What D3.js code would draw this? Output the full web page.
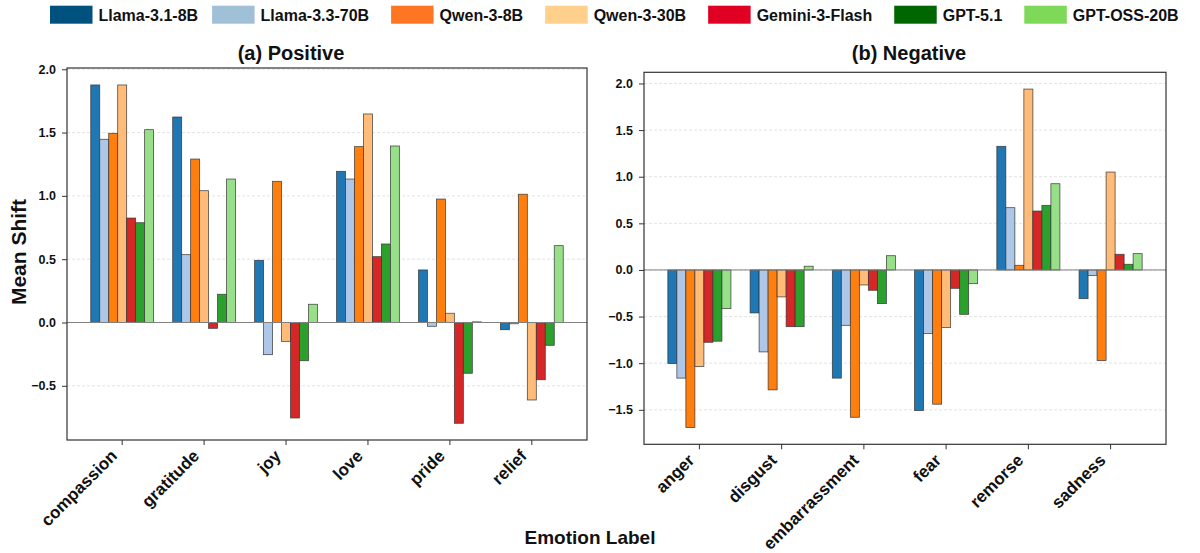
<!DOCTYPE html>
<html>
<head>
<meta charset="utf-8">
<script src="https://cdn.jsdelivr.net/npm/d3@7"></script>
<style>
  html, body { margin: 0; padding: 0; background: #fff; }
  svg { display: block; }
  text { font-family: "Liberation Sans", Arial, Helvetica, sans-serif; font-weight: bold; fill: #111; }
</style>
</head>
<body>
<svg id="chart" width="1200" height="553"></svg>
<script>
// ---------------- DATA ----------------
const models = ["Llama-3.1-8B", "Llama-3.3-70B", "Qwen-3-8B", "Qwen-3-30B", "Gemini-3-Flash", "GPT-5.1", "GPT-OSS-20B"];
const posCategories = ["compassion", "gratitude", "joy", "love", "pride", "relief"];
const negCategories = ["anger", "disgust", "embarrassment", "fear", "remorse", "sadness"];

// Positive emotions (values per category, in posCategories order)
const posLlama31  = [1.876, 1.623, 0.491, 1.194, 0.415, -0.057];
const posLlama33  = [1.447, 0.536, -0.254, 1.133, -0.030, -0.010];
const posQwen8    = [1.494, 1.291, 1.115, 1.389, 0.975, 1.013];
const posQwen30   = [1.876, 1.041, -0.149, 1.647, 0.073, -0.612];
const posGemini   = [0.825, -0.046, -0.754, 0.520, -0.796, -0.452];
const posGpt51    = [0.788, 0.223, -0.302, 0.620, -0.401, -0.180];
const posGptOss   = [1.523, 1.133, 0.144, 1.394, 0.005, 0.607];

// Negative emotions (values per category, in negCategories order)
const negLlama31  = [-1.004, -0.461, -1.160, -1.508, 1.326, -0.308];
const negLlama33  = [-1.160, -0.879, -0.594, -0.683, 0.668, -0.060];
const negQwen8    = [-1.690, -1.286, -1.580, -1.440, 0.050, -0.972];
const negQwen30   = [-1.036, -0.289, -0.161, -0.618, 1.940, 1.050];
const negGemini   = [-0.776, -0.608, -0.218, -0.197, 0.632, 0.168];
const negGpt51    = [-0.764, -0.608, -0.361, -0.476, 0.693, 0.061];
const negGptOss   = [-0.415, 0.040, 0.153, -0.147, 0.925, 0.175];

const posYTicks = [-0.5, 0.0, 0.5, 1.0, 1.5, 2.0];
const negYTicks = [-1.5, -1.0, -0.5, 0.0, 0.5, 1.0, 1.5, 2.0];

const barColors    = ["#1f77b4", "#aec7e8", "#ff7f0e", "#ffbb78", "#d62728", "#2ca02c", "#98df8a"];
const legendColors = ["#00517e", "#a0c0d8", "#ff7622", "#ffd08c", "#e00024", "#006600", "#7ed958"];

const posSeries = [posLlama31, posLlama33, posQwen8, posQwen30, posGemini, posGpt51, posGptOss];
const negSeries = [negLlama31, negLlama33, negQwen8, negQwen30, negGemini, negGpt51, negGptOss];

// ---------------- CHART ----------------
const svg = d3.select("#chart");

function drawPanel(opts) {
  const { left, right, top, bottom, yDomain, yTicks, categories, series, title, titleX } = opts;
  const g = svg.append("g");

  const x0 = d3.scaleBand().domain(categories).range([left, right])
    .paddingInner(0.233).paddingOuter(0.29);
  const x1 = d3.scaleBand().domain(models).range([0, x0.bandwidth()]).padding(0);
  const y = d3.scaleLinear().domain(yDomain).range([bottom, top]);

  // grid lines
  g.append("g").selectAll("line").data(yTicks).join("line")
    .attr("x1", left).attr("x2", right)
    .attr("y1", d => y(d)).attr("y2", d => y(d))
    .attr("stroke", "#dcdcdc").attr("stroke-width", 0.8)
    .attr("stroke-dasharray", "3,2");

  // bars
  const rows = [];
  series.forEach((vals, mi) => {
    vals.forEach((v, ci) => rows.push({ model: models[mi], mi, cat: categories[ci], v }));
  });
  g.append("g").selectAll("rect").data(rows).join("rect")
    .attr("x", d => x0(d.cat) + x1(d.model))
    .attr("width", x1.bandwidth())
    .attr("y", d => Math.min(y(d.v), y(0)))
    .attr("height", d => Math.max(Math.abs(y(d.v) - y(0)), 0.6))
    .attr("fill", d => barColors[d.mi])
    .attr("stroke", "#333")
    .attr("stroke-opacity", 0.85)
    .attr("stroke-width", 0.8);

  // zero line
  g.append("line")
    .attr("x1", left).attr("x2", right)
    .attr("y1", y(0)).attr("y2", y(0))
    .attr("stroke", "#808080").attr("stroke-width", 1);

  // frame
  g.append("rect")
    .attr("x", left).attr("y", top)
    .attr("width", right - left).attr("height", bottom - top)
    .attr("fill", "none").attr("stroke", "#333").attr("stroke-width", 1.2);

  // y axis
  const yAxis = d3.axisLeft(y).tickValues(yTicks).tickFormat(d3.format(".1f"))
    .tickSize(5).tickPadding(6);
  const ya = g.append("g").attr("transform", `translate(${left},0)`).call(yAxis);
  ya.select(".domain").remove();
  ya.selectAll(".tick line").attr("stroke", "#333").attr("stroke-width", 1);
  ya.selectAll(".tick text").style("font-size", "12.5px").attr("fill", "#111")
    .style("font-family", "'Liberation Sans', Arial, sans-serif").style("font-weight", "bold");

  // x axis
  const xAxis = d3.axisBottom(x0).tickSize(5).tickPadding(0);
  const xa = g.append("g").attr("transform", `translate(0,${bottom})`).call(xAxis);
  xa.select(".domain").remove();
  xa.selectAll(".tick line").attr("stroke", "#333").attr("stroke-width", 1);
  xa.selectAll(".tick text")
    .style("font-size", "17px").attr("fill", "#111")
    .style("font-family", "'Liberation Sans', Arial, sans-serif").style("font-weight", "bold")
    .attr("text-anchor", "end")
    .attr("dy", null).attr("y", null)
    .attr("transform", "translate(-4,17) rotate(-45)");

  // title
  svg.append("text").attr("x", titleX).attr("y", 59.5)
    .attr("text-anchor", "middle").style("font-size", "20px").text(title);
}

drawPanel({
  left: 67, right: 587, top: 68, bottom: 440,
  yDomain: [-0.928, 2.01], yTicks: posYTicks,
  categories: posCategories, series: posSeries,
  title: "(a) Positive", titleX: 291
});

drawPanel({
  left: 644, right: 1166, top: 72.3, bottom: 444.3,
  yDomain: [-1.87, 2.12], yTicks: negYTicks,
  categories: negCategories, series: negSeries,
  title: "(b) Negative", titleX: 909
});

// axis labels
svg.append("text")
  .attr("transform", "translate(26,252) rotate(-90)")
  .attr("text-anchor", "middle").style("font-size", "21px").text("Mean Shift");

svg.append("text").attr("x", 590).attr("y", 543.5)
  .attr("text-anchor", "middle").style("font-size", "19px").text("Emotion Label");

// legend
const legend = svg.append("g");
let lx = 50;
models.forEach((m, i) => {
  legend.append("rect").attr("x", lx).attr("y", 5.7).attr("width", 42.5).attr("height", 18)
    .attr("fill", legendColors[i]);
  const t = legend.append("text").attr("x", lx + 48.5).attr("y", 21)
    .style("font-size", "16px").text(m);
  const w = t.node().getComputedTextLength();
  lx += 48.5 + w + (i === 0 ? 14 : 22);
});
</script>
</body>
</html>
